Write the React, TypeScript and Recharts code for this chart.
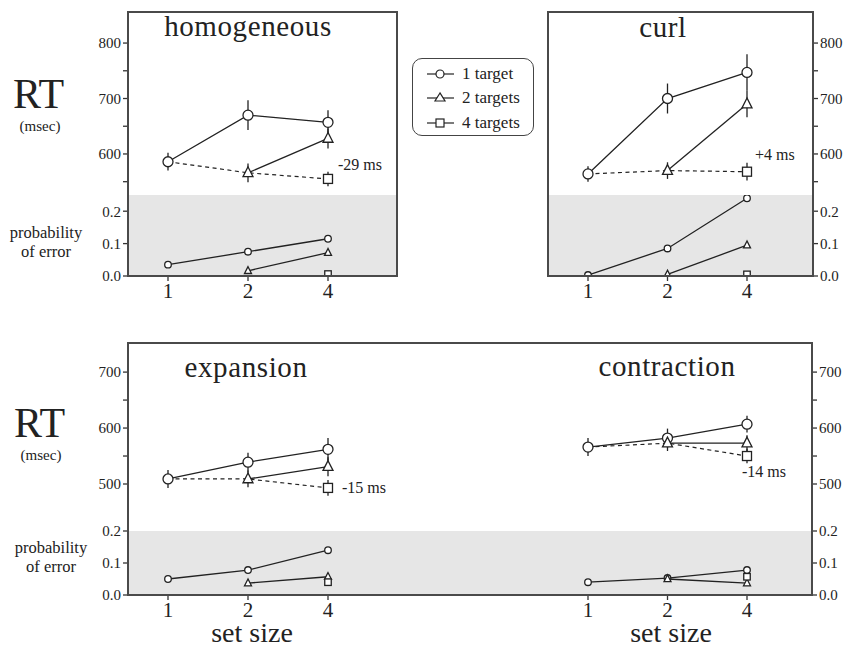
import React from 'react';
import { LineChart, Line, XAxis, YAxis, ErrorBar, CartesianGrid } from 'recharts';

// ---------- data ----------
const sizes = ['1', '2', '4'];

// homogeneous
const homRT1 = [586, 670, 657];
const homRT1e = [16, 27, 22];
const homRT2 = [null, 566, 628];
const homRT2e = [null, 17, 18];
const homRT4 = [null, null, 555];
const homRT4e = [null, null, 13];
const homBest = [586, 566, 555];
const homErr1 = [0.035, 0.075, 0.115];
const homErr2 = [null, 0.016, 0.072];
const homErr4 = [null, null, 0.006];

// curl
const curlRT1 = [564, 700, 747];
const curlRT1e = [14, 27, 33];
const curlRT2 = [null, 570, 690];
const curlRT2e = [null, 15, 24];
const curlRT4 = [null, null, 568];
const curlRT4e = [null, null, 16];
const curlBest = [564, 570, 568];
const curlErr1 = [0.003, 0.085, 0.24];
const curlErr2 = [null, 0.005, 0.095];
const curlErr4 = [null, null, 0.005];

// expansion
const expRT1 = [509, 539, 562];
const expRT1e = [16, 17, 20];
const expRT2 = [null, 509, 531];
const expRT2e = [null, 15, 17];
const expRT4 = [null, null, 493];
const expRT4e = [null, null, 14];
const expBest = [509, 509, 493];
const expErr1 = [0.05, 0.078, 0.14];
const expErr2 = [null, 0.037, 0.057];
const expErr4 = [null, null, 0.04];

// contraction
const conRT1 = [566, 582, 607];
const conRT1e = [16, 17, 15];
const conRT2 = [null, 573, 573];
const conRT2e = [null, 14, 14];
const conRT4 = [null, null, 550];
const conRT4e = [null, null, 13];
const conBest = [566, 573, 550];
const conErr1 = [0.04, 0.053, 0.078];
const conErr2 = [null, 0.05, 0.037];
const conErr4 = [null, null, 0.057];

const topRTTicks = [550, 600, 650, 700, 750, 800];
const botRTTicks = [500, 550, 600, 650, 700];
const errTicks = [0, 0.1, 0.2];

const legendLabels = ['1 target', '2 targets', '4 targets'];

// ---------- helpers ----------
function buildRT(r1: any[], e1: any[], r2: any[], e2: any[], r4: any[], e4: any[], best: any[]) {
  return sizes.map((s, i) => ({
    size: s, t1: r1[i], t1e: e1[i], t2: r2[i], t2e: e2[i], t4: r4[i], t4e: e4[i], best: best[i],
  }));
}
function buildErr(a: any[], b: any[], c: any[]) {
  return sizes.map((s, i) => ({ size: s, t1: a[i], t2: b[i], t4: c[i] }));
}

const INK = '#222';
const FONT = '"Liberation Serif", "Times New Roman", serif';

const circleDot = (r: number) => (p: any) => {
  const k = `c-${p.dataKey}-${p.index}`;
  if (p.cx == null || p.cy == null || p.value == null) return <g key={k} />;
  return <circle key={k} cx={p.cx} cy={p.cy} r={r} fill="#fff" stroke={INK} strokeWidth={1.3} />;
};
const triDot = (s: number) => (p: any) => {
  const k = `t-${p.dataKey}-${p.index}`;
  if (p.cx == null || p.cy == null || p.value == null) return <g key={k} />;
  const { cx, cy } = p;
  const pts = `${cx},${cy - s * 0.6} ${cx - s / 2},${cy + s * 0.38} ${cx + s / 2},${cy + s * 0.38}`;
  return <polygon key={k} points={pts} fill="#fff" stroke={INK} strokeWidth={1.3} />;
};
const sqDot = (s: number) => (p: any) => {
  const k = `s-${p.dataKey}-${p.index}`;
  if (p.cx == null || p.cy == null || p.value == null) return <g key={k} />;
  return <rect key={k} x={p.cx - s / 2} y={p.cy - s / 2} width={s} height={s} fill="#fff" stroke={INK} strokeWidth={1.3} />;
};

type HalfProps = {
  left: number; width: number; top: number; split: number; bottom: number;
  side: 'left' | 'right'; padL: number; padR: number;
  rtDomain: [number, number]; rtTicks: number[]; errDomain: [number, number];
  rtData: any[]; errData: any[];
};

const AXW = 46;
const ETOP = 10;

function Half(props: HalfProps) {
  const { left, width, top, split, bottom, side, padL, padR, rtDomain, rtTicks, errDomain, rtData, errData } = props;
  const chartLeft = side === 'left' ? left - AXW : left;
  const totalW = width + AXW;
  const tickStyle = { fontSize: 15, fill: INK, fontFamily: FONT };
  const lineCommon = { stroke: INK, strokeWidth: 1.3, isAnimationActive: false, connectNulls: false } as any;
  return (
    <>
      <div style={{ position: 'absolute', left: chartLeft, top }}>
        <LineChart width={totalW} height={split - top} data={rtData} margin={{ top: 0, right: 0, bottom: 0, left: 0 }}>
          <XAxis dataKey="size" type="category" hide padding={{ left: padL, right: padR }} />
          <YAxis
            orientation={side}
            width={AXW}
            type="number"
            domain={rtDomain}
            allowDataOverflow
            ticks={rtTicks}
            interval={0}
            axisLine={false}
            tickSize={5}
            tickLine={{ stroke: '#333', strokeWidth: 1.3 }}
            tick={tickStyle}
            tickFormatter={(v: number) => (v % 100 === 0 ? String(v) : '')}
          />
          <Line dataKey="best" {...lineCommon} strokeWidth={1.2} strokeDasharray="4 3.5" dot={false} />
          <Line dataKey="t1" {...lineCommon} dot={circleDot(5)}>
            <ErrorBar dataKey="t1e" direction="y" width={0} stroke={INK} strokeWidth={1.3} isAnimationActive={false} />
          </Line>
          <Line dataKey="t2" {...lineCommon} dot={triDot(10)}>
            <ErrorBar dataKey="t2e" direction="y" width={0} stroke={INK} strokeWidth={1.3} isAnimationActive={false} />
          </Line>
          <Line dataKey="t4" {...lineCommon} dot={sqDot(9)}>
            <ErrorBar dataKey="t4e" direction="y" width={0} stroke={INK} strokeWidth={1.3} isAnimationActive={false} />
          </Line>
        </LineChart>
      </div>
      <div style={{ position: 'absolute', left: chartLeft, top: split - ETOP }}>
        <LineChart width={totalW} height={bottom - split + 34 + ETOP} data={errData} margin={{ top: ETOP, right: 0, bottom: 0, left: 0 }}>
          <CartesianGrid horizontal={false} vertical={false} fill="#e6e6e6" fillOpacity={1} stroke="none" />
          <XAxis
            dataKey="size"
            type="category"
            padding={{ left: padL, right: padR }}
            height={34}
            axisLine={false}
            tickSize={5}
            tickLine={{ stroke: '#333', strokeWidth: 1.3 }}
            tick={{ fontSize: 21, fill: INK, fontFamily: FONT }}
            interval={0}
          />
          <YAxis
            orientation={side}
            width={AXW}
            type="number"
            domain={errDomain}
            allowDataOverflow
            ticks={errTicks}
            interval={0}
            axisLine={false}
            tickSize={5}
            tickLine={{ stroke: '#333', strokeWidth: 1.3 }}
            tick={tickStyle}
            tickFormatter={(v: number) => v.toFixed(1)}
          />
          <Line dataKey="t1" {...lineCommon} dot={circleDot(3.3)} />
          <Line dataKey="t2" {...lineCommon} dot={triDot(7)} />
          <Line dataKey="t4" {...lineCommon} dot={sqDot(6.5)} />
        </LineChart>
      </div>
    </>
  );
}

function Box({ l, t, r, b }: { l: number; t: number; r: number; b: number }) {
  return (
    <div
      style={{
        position: 'absolute', left: l - 1, top: t - 1, width: r - l + 2, height: b - t + 2,
        border: '2px solid #4a4a4a', boxSizing: 'border-box', pointerEvents: 'none',
      }}
    />
  );
}

function LegendRow({ y, idx }: { y: number; idx: number }) {
  const shape =
    idx === 0 ? <circle cx={13} cy={8} r={4} fill="#fff" stroke={INK} strokeWidth={1.2} /> :
    idx === 1 ? <polygon points="13,3 8,11 18,11" fill="#fff" stroke={INK} strokeWidth={1.2} /> :
    <rect x={9} y={4} width={8} height={8} fill="#fff" stroke={INK} strokeWidth={1.2} />;
  return (
    <div style={{ position: 'absolute', left: 14, top: y, display: 'flex', alignItems: 'center', height: 16 }}>
      <svg width={27} height={16} style={{ display: 'block' }}>
        <line x1={0} y1={8} x2={27} y2={8} stroke={INK} strokeWidth={1.2} />
        {shape}
      </svg>
      <span style={{ marginLeft: 8, fontSize: 17, fontFamily: FONT, color: INK, lineHeight: '16px', whiteSpace: 'nowrap' }}>
        {legendLabels[idx]}
      </span>
    </div>
  );
}

export default function App() {
  const homRT = buildRT(homRT1, homRT1e, homRT2, homRT2e, homRT4, homRT4e, homBest);
  const homE = buildErr(homErr1, homErr2, homErr4);
  const curlRT = buildRT(curlRT1, curlRT1e, curlRT2, curlRT2e, curlRT4, curlRT4e, curlBest);
  const curlE = buildErr(curlErr1, curlErr2, curlErr4);
  const expRT = buildRT(expRT1, expRT1e, expRT2, expRT2e, expRT4, expRT4e, expBest);
  const expE = buildErr(expErr1, expErr2, expErr4);
  const conRT = buildRT(conRT1, conRT1e, conRT2, conRT2e, conRT4, conRT4e, conBest);
  const conE = buildErr(conErr1, conErr2, conErr4);

  const txt = { fontFamily: FONT, fill: INK } as any;

  return (
    <div style={{ position: 'absolute', left: 0, top: 0, width: 846, height: 648, background: '#fff', overflow: 'hidden', fontFamily: FONT }}>
      <Half left={128} width={269} top={12} split={195} bottom={276} side="left" padL={40} padR={69}
        rtDomain={[526, 856]} rtTicks={topRTTicks} errDomain={[0, 0.25]} rtData={homRT} errData={homE} />
      <Half left={548} width={265} top={12} split={195} bottom={276} side="right" padL={40} padR={66}
        rtDomain={[526, 856]} rtTicks={topRTTicks} errDomain={[0, 0.25]} rtData={curlRT} errData={curlE} />
      <Half left={128} width={342} top={343} split={531} bottom={595} side="left" padL={40} padR={142}
        rtDomain={[416, 752]} rtTicks={botRTTicks} errDomain={[0, 0.2]} rtData={expRT} errData={expE} />
      <Half left={470} width={342} top={343} split={531} bottom={595} side="right" padL={118} padR={65}
        rtDomain={[416, 752]} rtTicks={botRTTicks} errDomain={[0, 0.2]} rtData={conRT} errData={conE} />

      <Box l={128} t={12} r={397} b={276} />
      <Box l={548} t={12} r={813} b={276} />
      <Box l={128} t={343} r={812} b={595} />

      <div style={{
        position: 'absolute', left: 412, top: 58, width: 122, height: 78, border: '1.5px solid #444',
        borderRadius: 10, boxSizing: 'border-box', background: '#fff',
      }}>
        <LegendRow y={7} idx={0} />
        <LegendRow y={31} idx={1} />
        <LegendRow y={56} idx={2} />
      </div>

      <svg width={846} height={648} style={{ position: 'absolute', left: 0, top: 0, pointerEvents: 'none' }}>
        <text x={13} y={108} fontSize={42} {...txt}>RT</text>
        <text x={40} y={131} fontSize={15} textAnchor="middle" {...txt}>(msec)</text>
        <text x={46} y={238} fontSize={16.5} textAnchor="middle" {...txt}>probability</text>
        <text x={46} y={257} fontSize={16.5} textAnchor="middle" {...txt}>of error</text>

        <text x={14} y={437} fontSize={42} {...txt}>RT</text>
        <text x={41} y={460} fontSize={15} textAnchor="middle" {...txt}>(msec)</text>
        <text x={51} y={553} fontSize={16.5} textAnchor="middle" {...txt}>probability</text>
        <text x={51} y={572} fontSize={16.5} textAnchor="middle" {...txt}>of error</text>

        <text x={248} y={36} fontSize={29} textAnchor="middle" letterSpacing={0.6} {...txt}>homogeneous</text>
        <text x={663} y={37} fontSize={29} textAnchor="middle" letterSpacing={0.6} {...txt}>curl</text>
        <text x={246} y={377} fontSize={29} textAnchor="middle" letterSpacing={0.6} {...txt}>expansion</text>
        <text x={667} y={376} fontSize={29} textAnchor="middle" letterSpacing={0.6} {...txt}>contraction</text>

        <text x={338} y={170} fontSize={16} {...txt}>-29 ms</text>
        <text x={755} y={160} fontSize={16} {...txt}>+4 ms</text>
        <text x={342} y={493} fontSize={16} {...txt}>-15 ms</text>
        <text x={742} y={477} fontSize={16} {...txt}>-14 ms</text>

        <text x={252} y={642} fontSize={28} textAnchor="middle" {...txt}>set size</text>
        <text x={671} y={642} fontSize={28} textAnchor="middle" {...txt}>set size</text>
      </svg>
    </div>
  );
}
